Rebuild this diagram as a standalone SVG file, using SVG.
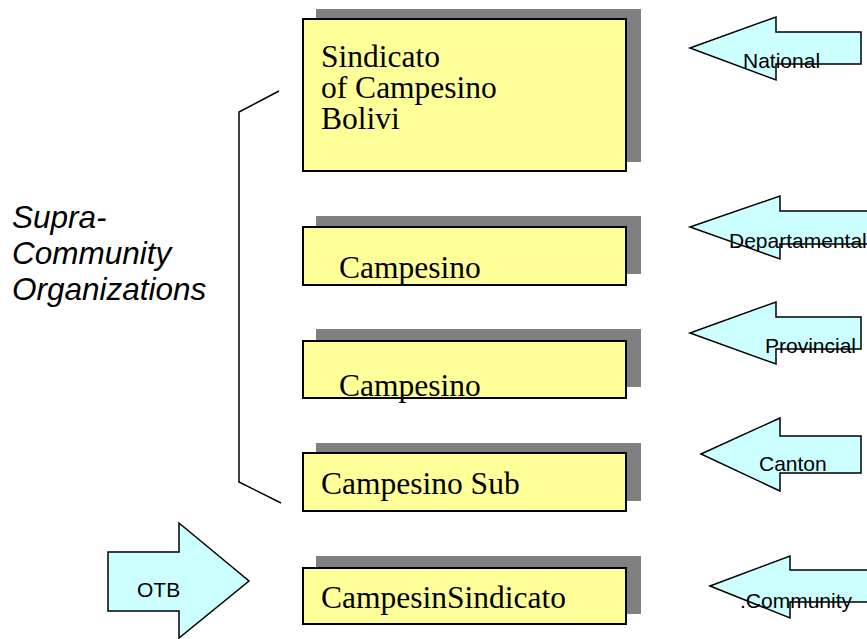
<svg xmlns="http://www.w3.org/2000/svg" width="867" height="639" viewBox="0 0 867 639">
  <style>
    .shadow { fill: #808080; }
    .box { fill: #FFFF99; stroke: #000; stroke-width: 2; }
    .boxtext { font-family: "Liberation Serif", "Times New Roman", serif; font-size: 31.5px; fill: #000; }
    .arrow { fill: #CCFFFF; stroke: #000; stroke-width: 1.5; stroke-linejoin: miter; }
    .arrowtext { font-family: "Liberation Sans", Arial, sans-serif; font-size: 21px; fill: #000; }
    .side { font-family: "Liberation Sans", Arial, sans-serif; font-size: 31.5px; font-style: italic; fill: #000; }
    .bracket { fill: none; stroke: #000; stroke-width: 1.5; }
  </style>

  <rect width="867" height="639" fill="#fff"/>

  <!-- bracket grouping the supra-community levels -->
  <g id="connectors">
    <polyline class="bracket" points="279,91 239,112 239,482 281,503"/>
  </g>

  <g id="label-supra">
    <text class="side" x="12" y="228">Supra-</text>
    <text class="side" x="12" y="264">Community</text>
    <text class="side" x="12" y="300">Organizations</text>
  </g>

  <!-- organisation boxes -->
  <g id="box-national">
    <rect class="shadow" x="316" y="9" width="325" height="153"/>
    <rect class="box" x="303" y="19" width="323" height="152"/>
    <text class="boxtext" x="321" y="67">Sindicato</text>
    <text class="boxtext" x="321" y="98">of Campesino</text>
    <text class="boxtext" x="321" y="129">Bolivi</text>
  </g>

  <g id="box-departmental">
    <rect class="shadow" x="316" y="216" width="325" height="58"/>
    <rect class="box" x="303" y="227" width="323" height="58"/>
    <text class="boxtext" x="339" y="278">Campesino</text>
  </g>

  <g id="box-provincial">
    <rect class="shadow" x="316" y="329" width="325" height="58"/>
    <rect class="box" x="303" y="341" width="323" height="57"/>
    <text class="boxtext" x="339" y="396">Campesino</text>
  </g>

  <g id="box-canton">
    <rect class="shadow" x="316" y="443" width="325" height="58"/>
    <rect class="box" x="303" y="453" width="323" height="58"/>
    <text class="boxtext" x="321" y="494">Campesino Sub</text>
  </g>

  <g id="box-community">
    <rect class="shadow" x="316" y="556" width="325" height="58"/>
    <rect class="box" x="303" y="568" width="323" height="56"/>
    <text class="boxtext" x="321" y="608">CampesinSindicato</text>
  </g>

  <!-- level arrows -->
  <g id="arrow-national">
    <polygon class="arrow" points="690,48 776,17 776,32 861,32 861,64 776,64 776,80"/>
    <text class="arrowtext" x="743" y="68">National</text>
  </g>

  <g id="arrow-departamental">
    <polygon class="arrow" points="690,227 780,196 780,211 870,211 870,244 780,244 780,259"/>
    <text class="arrowtext" x="729" y="248">Departamental</text>
  </g>

  <g id="arrow-provincial">
    <polygon class="arrow" points="690,333 776,302 776,317 861,317 861,349 776,349 776,364"/>
    <text class="arrowtext" x="765" y="353">Provincial</text>
  </g>

  <g id="arrow-canton">
    <polygon class="arrow" points="701,454 780,418 780,436 861,436 861,473 780,473 780,491"/>
    <text class="arrowtext" x="759" y="471">Canton</text>
  </g>

  <g id="arrow-community">
    <polygon class="arrow" points="710,586 790,556 790,570 870,570 870,602 790,602 790,618"/>
    <text class="arrowtext" x="740" y="608">.Community</text>
  </g>

  <g id="arrow-otb">
    <polygon class="arrow" points="108,552 179,552 179,523 249,581 179,638 179,611 108,611"/>
    <text class="arrowtext" x="137" y="597">OTB</text>
  </g>
</svg>
